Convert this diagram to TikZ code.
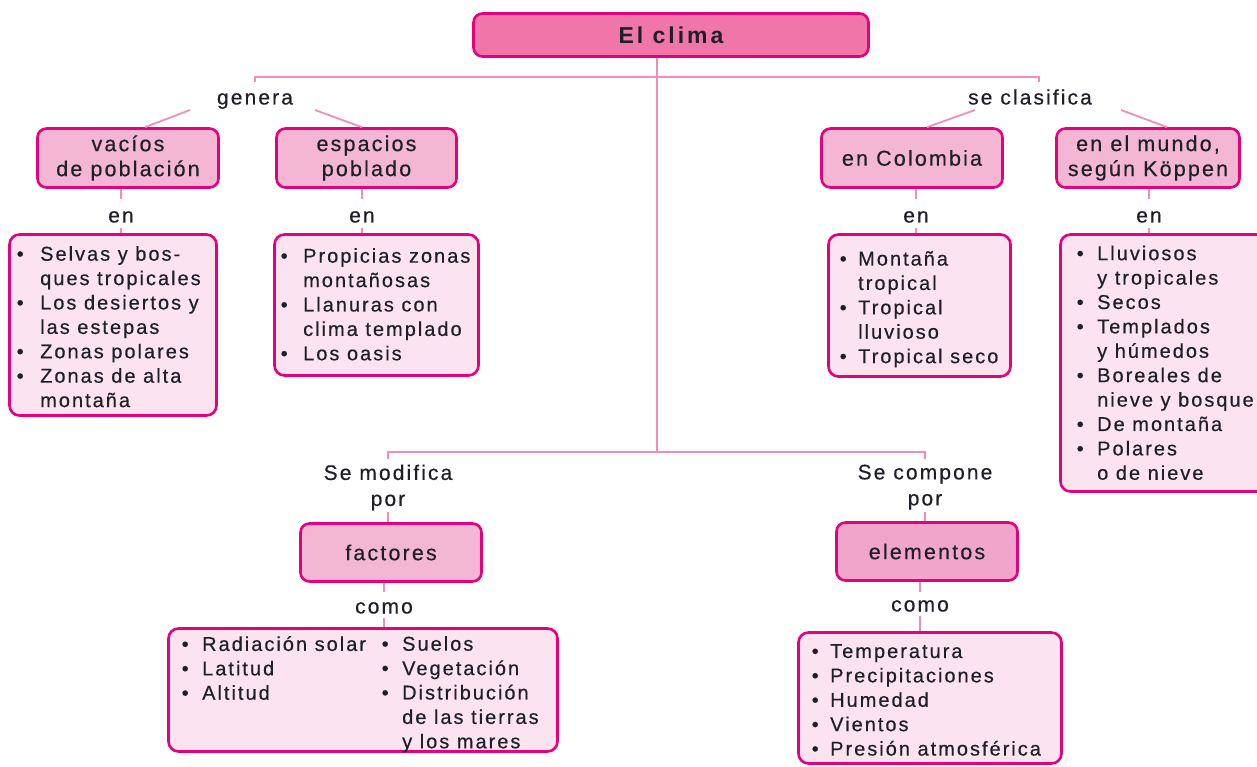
\documentclass[tikz,border=0pt]{standalone}
\usepackage{fontspec}
\setmainfont{Liberation Sans}[LetterSpace=10, FakeBold=0.4]
\newfontfamily\climaf{Liberation Sans Bold}[LetterSpace=13]
\usetikzlibrary{calc}
\definecolor{mag}{HTML}{E5007E}
\definecolor{linepink}{HTML}{F28CBF}
\definecolor{climafill}{HTML}{F075A8}
\definecolor{hdrfill}{HTML}{F3B6D3}
\definecolor{elefill}{HTML}{F2A5CA}
\definecolor{listfill}{HTML}{FBE3EF}
\definecolor{txt}{HTML}{1F1F2A}
\newlength\bw
\newcommand\bi{\makebox[\bw][l]{\textbullet}}
\newcommand\ci{\hspace*{\bw}}
\newcommand\setbw[1]{\global\bw=#1\relax}
\tikzset{
  conn/.style={draw=linepink, line width=1.8pt},
  hdr/.style={draw=mag, line width=2.6pt, rounded corners=9pt, fill=hdrfill, text=txt, align=center, inner sep=0pt, font=\fontsize{21.5}{25}\selectfont},
  lst/.style={draw=mag, line width=2.6pt, rounded corners=10pt, fill=listfill, inner sep=0pt},
  lbl/.style={text=txt, align=center, inner sep=0pt, text height=15.5pt, text depth=4.5pt, font=\fontsize{21}{26}\selectfont},
  lbltwo/.style={text=txt, align=center, inner sep=0pt, anchor=north, font=\fontsize{21}{26}\selectfont},
  items/.style={text=txt, align=left, anchor=north west, inner sep=0pt, font=\fontsize{20}{24.4}\selectfont},
}
\begin{document}
\begin{tikzpicture}[x=1pt,y=-1pt]
\useasboundingbox (0,0) rectangle (1257,767);
% coordinates
\coordinate (tb) at (657,77);
\coordinate (tbR) at (1039,77);
\coordinate (hub) at (657,452);
% main node
\node[hdr, fill=climafill, minimum width=395pt, minimum height=43pt, font=\climaf\fontsize{23}{26}\selectfont] (clima) at (671,35) {El clima};
% headers
\node[hdr, minimum width=181pt, minimum height=59pt] (vac) at (128,158) {vacíos\\de población};
\node[hdr, minimum width=180pt, minimum height=59pt] (esp) at (366.5,158) {espacios\\poblado};
\node[hdr, minimum width=181pt, minimum height=59pt] (col) at (912,158) {en Colombia};
\node[hdr, minimum width=183pt, minimum height=59pt] (kop) at (1148,158) {en el mundo,\\según Köppen};
\node[hdr, minimum width=181pt, minimum height=58pt] (fac) at (391,552.5) {factores};
\node[hdr, fill=elefill, minimum width=181pt, minimum height=58pt] (ele) at (927,551.5) {elementos};
% labels
\node[lbl] (genera) at (255,99) {genera};
\node[lbl] (clasif) at (1030,99) {se clasifica};
\node[lbl] (en1) at (121,217) {en};
\node[lbl] (en2) at (362,217) {en};
\node[lbl] (en3) at (916,217) {en};
\node[lbl] (en4) at (1149,217) {en};
\node[lbltwo] (modif) at (388,464.5) {Se modifica\\por};
\node[lbltwo] (compone) at (925,464.5) {Se compone\\por};
\node[lbl] (como1) at (384,608) {como};
\node[lbl] (como2) at (920,606) {como};
% list boxes
\node[lst, minimum width=207pt, minimum height=181pt] (Lvac) at (113,325) {};
\node[lst, minimum width=204pt, minimum height=141pt] (Lesp) at (376.5,305) {};
\node[lst, minimum width=182pt, minimum height=142pt] (Lcol) at (919.5,305.5) {};
\node[lst, minimum width=213pt, minimum height=257pt] (Lkop) at (1167,363) {};
\node[lst, minimum width=389pt, minimum height=123pt] (Lfac) at (363,690) {};
\node[lst, minimum width=263pt, minimum height=131pt] (Lele) at (930,698) {};
% list contents
\node[items] (Tvac) at (16.5,246) {\setbw{23.5pt}\bi Selvas y bos-\\\ci ques tropicales\\\bi Los desiertos y\\\ci las estepas\\\bi Zonas polares\\\bi Zonas de alta\\\ci montaña};
\node[items] (Tesp) at (280.5,248) {\setbw{22.5pt}\bi Propicias zonas\\\ci montañosas\\\bi Llanuras con\\\ci clima templado\\\bi Los oasis};
\node[items] (Tcol) at (839.5,251) {\setbw{18.5pt}\bi Montaña\\\ci tropical\\\bi Tropical\\\ci lluvioso\\\bi Tropical seco};
\node[items] (Tkop) at (1076.5,245.5) {\setbw{20.5pt}\bi Lluviosos\\\ci y tropicales\\\bi Secos\\\bi Templados\\\ci y húmedos\\\bi Boreales de\\\ci nieve y bosque\\\bi De montaña\\\bi Polares\\\ci o de nieve};
\node[items] (Tfac1) at (181.5,636) {\setbw{20.5pt}\bi Radiación solar\\\bi Latitud\\\bi Altitud};
\node[items] (Tfac2) at (381.5,636) {\setbw{20.5pt}\bi Suelos\\\bi Vegetación\\\bi Distribución\\\ci de las tierras\\\ci y los mares};
\node[items] (Tele) at (811.5,644) {\setbw{18.5pt}\bi Temperatura\\\bi Precipitaciones\\\bi Humedad\\\bi Vientos\\\bi Presión atmosférica};
% connectors
\draw[conn] (clima.south -| tb) -- (hub);
\draw[conn, shorten <=7pt, shorten >=7pt] (genera.north) -- (genera.north |- tb) -- (tbR) -- (tbR |- clasif.north);
\draw[conn] ($(genera.center)+(-65,11)$) -- ($(vac.north)+(17,0)$);
\draw[conn] ($(genera.center)+(60,11)$) -- ($(esp.north)+(-4.5,0)$);
\draw[conn] ($(clasif.center)+(-55,11)$) -- ($(col.north)+(15,0)$);
\draw[conn] ($(clasif.center)+(91,11)$) -- ($(kop.north)+(19,0)$);
\foreach \h/\e/\l in {vac/en1/Lvac, esp/en2/Lesp, col/en3/Lcol, kop/en4/Lkop}{
  \draw[conn, shorten >=8pt] (\h.south -| \e) -- (\e.north);
  \draw[conn, shorten <=1pt] (\e.south) -- (\e.south |- \l.north);
}
\draw[conn, shorten <=6pt, shorten >=6pt] (modif.north) -- (modif.north |- hub) -- (compone.north |- hub) -- (compone.north);
\draw[conn, shorten <=2pt] (modif.south) -- (modif.south |- fac.north);
\draw[conn, shorten <=2pt] (compone.south) -- (compone.south |- ele.north);
\draw[conn, shorten >=6pt] (fac.south -| como1) -- (como1.north);
\draw[conn, shorten <=0pt] (como1.south) -- (como1.south |- Lfac.north);
\draw[conn, shorten >=4pt] (ele.south -| como2) -- (como2.north);
\draw[conn, shorten <=0pt] (como2.south) -- (como2.south |- Lele.north);
\end{tikzpicture}
\end{document}
